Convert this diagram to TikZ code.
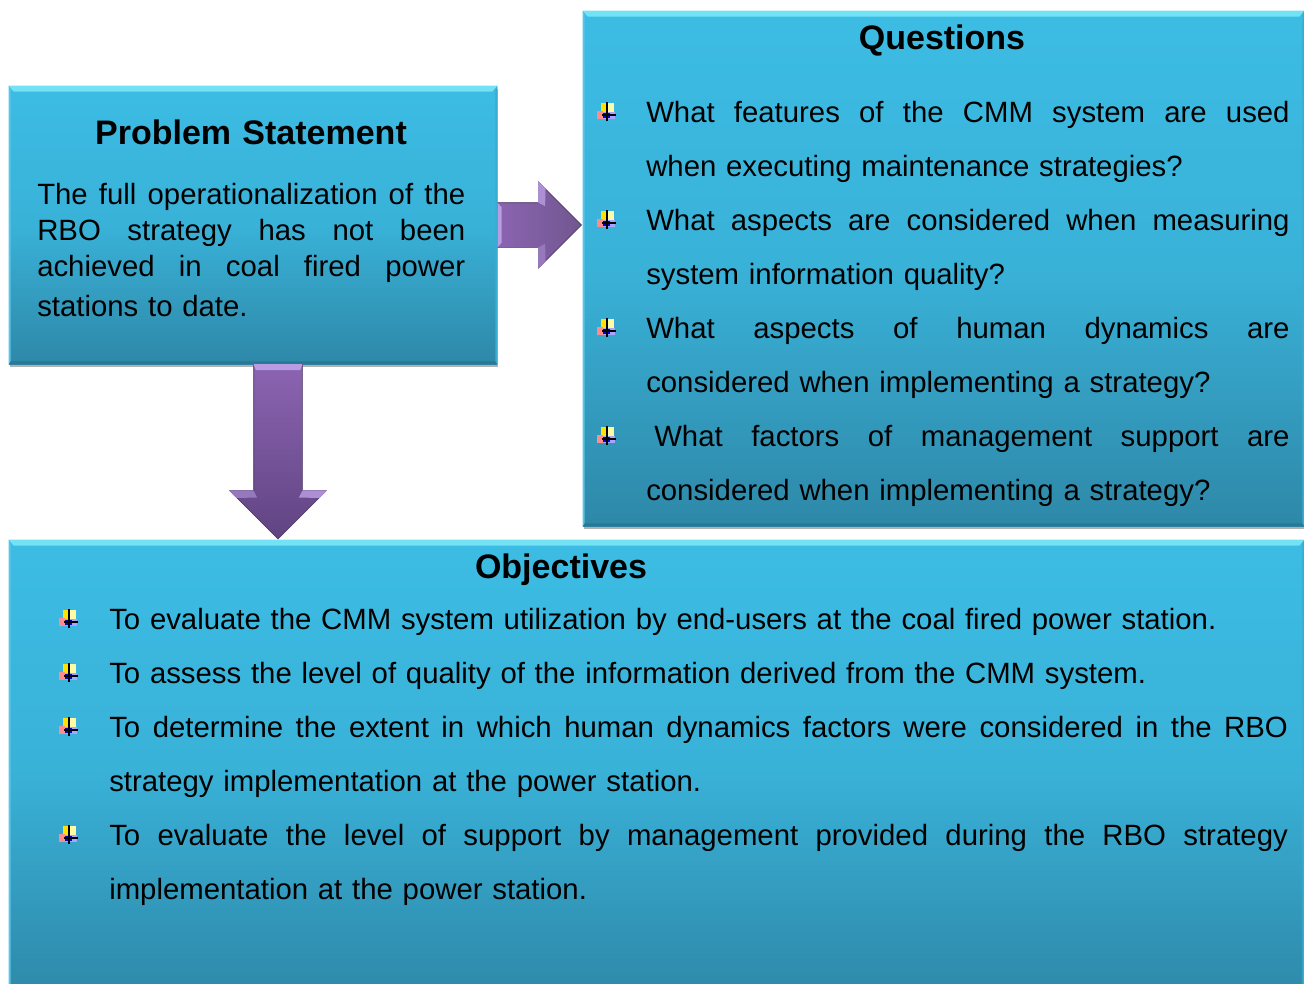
\documentclass[tikz,border=0pt]{standalone}
\usepackage{fontspec}
\setmainfont[WordSpace=1.2]{Liberation Sans}
\usetikzlibrary{shapes.arrows, shadows, positioning, calc}
\definecolor{boxtop}{RGB}{60, 188, 228}
\definecolor{boxbottom}{RGB}{46, 136, 168}
\definecolor{boxedge}{RGB}{115, 226, 245}
\definecolor{arrowlight}{RGB}{140, 100, 178}
\definecolor{arrowdark}{RGB}{96, 68, 130}
\definecolor{arrowedge}{RGB}{186, 156, 228}
\newcommand{\bevelbox}[1]{%
  \fill[boxedge] (#1.north west) -- (#1.north east) -- ++(-5,6) -- ($(#1.north west)+(5,6)$) -- cycle;
  \fill[white!15!boxtop] (#1.north west) -- (#1.south west) -- ++(2,-1) -- ($(#1.north west)+(2,4)$) -- cycle;
  \fill[black!12!boxbottom] (#1.south west) -- (#1.south east) -- ++(-2,-3) -- ($(#1.south west)+(2,-3)$) -- cycle;
  \fill[black!8!boxtop] (#1.south east) -- (#1.north east) -- ++(-2,4) -- ($(#1.south east)+(-2,-3)$) -- cycle;
}
\newcommand{\bevelarrow}[1]{%
  \fill[arrowedge] (#1.before tail) -- (#1.after tail) -- ($(#1.after tail)!5pt!(#1.after head)$) -- ($(#1.before tail)!5pt!(#1.before head)$) -- cycle;
  \fill[arrowedge!85!arrowdark] (#1.before tip) -- (#1.before head) -- ($(#1.before head)!6pt!(#1.tip)$) -- ($(#1.before tip)!8pt!(#1.tip)$) -- cycle;
  \fill[arrowedge!60!arrowdark] (#1.after tip) -- (#1.after head) -- ($(#1.after head)!6pt!(#1.tip)$) -- ($(#1.after tip)!8pt!(#1.tip)$) -- cycle;
}
\begin{document}
\begin{tikzpicture}[
    x=0.75pt, y=-0.75pt,
    bluebox/.style={rectangle, inner sep=0pt, top color=boxtop, bottom color=boxbottom, middle color=boxtop!80!boxbottom, drop shadow={shadow xshift=1pt, shadow yshift=-2pt, opacity=.3, fill=black}},
    heading/.style={font=\fontsize{25.5}{30}\selectfont\bfseries, inner sep=0pt},
    bodytext/.style={anchor=north west, inner sep=0pt, align=justify, font=\fontsize{22}{40.5}\selectfont},
    blockarrow/.style={single arrow, draw=arrowdark!70!black, line width=.4pt},
    pics/bulletmark/.style={code={
        \fill[yellow!85!orange] (-6,-10) rectangle (0,0);
        \fill[yellow!35!white] (0,-10) rectangle (7,0);
        \fill[red!45!white] (-10,-2) rectangle (-4,6);
        \fill[blue!35!white] (-4,-1) rectangle (8,6);
        \fill[blue!90!black] (-4,0) rectangle (3,5);
        \draw[black, line width=.8pt] (0,-11) -- (0,8) (-5,2) -- (9,2);
    }}
]
\useasboundingbox (0,0) rectangle (1304,983);

% boxes
\node[bluebox, minimum width=366pt, minimum height=208.5pt] (problem) at (253,225) {};
\node[bluebox, minimum width=540.75pt, minimum height=386.25pt] (questions) at (943.5,268.5) {};
\node[bluebox, minimum width=971.25pt, minimum height=345pt] (objectives) at (656.5,770) {};
\bevelbox{problem}
\bevelbox{questions}
\bevelbox{objectives}

% arrows between the boxes
\node[blockarrow, shape border rotate=0, inner xsep=0pt, inner ysep=16.5pt, minimum height=63pt, minimum width=64.5pt, single arrow head extend=15.75pt, left color=arrowlight, right color=arrowdark!90!white, anchor=tail] (toquestions) at (problem.east |- 0,225) {};
\node[blockarrow, shape border rotate=270, inner xsep=18pt, inner ysep=0pt, minimum height=131pt, minimum width=72pt, single arrow head extend=18pt, top color=arrowlight, bottom color=arrowdark, anchor=tail] (toobjectives) at (278,364) {};
\bevelarrow{toquestions}
\bevelarrow{toobjectives}

% headings
\node[heading] (problemtitle) at (251,132) {Problem Statement};
\node[heading] (questionstitle) at (942,41) {Questions};
\node[heading] (objectivestitle) at (561,570) {Objectives};

% problem text
\node[bodytext, text width=321pt, font=\fontsize{22}{27}\selectfont] (problemtext) at (37,183) {The full operationalization of the\linebreak RBO strategy has not been\linebreak achieved in coal fired power\vadjust{\vskip3pt}\linebreak stations to date.};

% questions
\pic at (607,113) {bulletmark};
\node[bodytext, text width=482.5pt] (q1) at (646,101) {What features of the CMM system are used\linebreak when executing maintenance strategies?};
\pic at (607,221) {bulletmark};
\node[bodytext, text width=482.5pt] (q2) at (646,209) {What aspects are considered when measuring\linebreak system information quality?};
\pic at (607,329) {bulletmark};
\node[bodytext, text width=482.5pt] (q3) at (646,317) {What aspects of human dynamics are\linebreak considered when implementing a strategy?};
\pic at (607,437) {bulletmark};
\node[bodytext, text width=482.5pt] (q4) at (646,425) {\hspace*{6pt}What factors of management support are\linebreak considered when implementing a strategy?};

% objectives
\pic at (69,620) {bulletmark};
\node[bodytext, text width=884pt] (o1) at (109,608) {To evaluate the CMM system utilization by end-users at the coal fired power station.};
\pic at (69,674) {bulletmark};
\node[bodytext, text width=884pt] (o2) at (109,662) {To assess the level of quality of the information derived from the CMM system.};
\pic at (69,728) {bulletmark};
\node[bodytext, text width=884pt] (o3) at (109,716) {To determine the extent in which human dynamics factors were considered in the RBO\linebreak strategy implementation at the power station.};
\pic at (69,836) {bulletmark};
\node[bodytext, text width=884pt] (o4) at (109,824) {To evaluate the level of support by management provided during the RBO strategy\linebreak implementation at the power station.};
\end{tikzpicture}
\end{document}
